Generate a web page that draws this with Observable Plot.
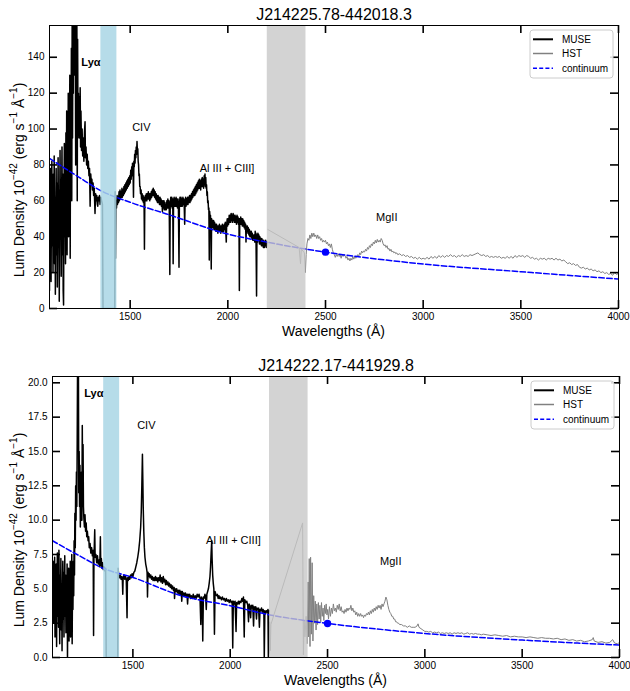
<!DOCTYPE html>
<html><head><meta charset="utf-8">
<script src="https://cdn.jsdelivr.net/npm/d3@7"></script>
<script src="https://cdn.jsdelivr.net/npm/@observablehq/plot@0.6"></script>
<style>
body{margin:0;background:#fff;}
#chart svg{display:block;}
</style></head><body><div id="chart"></div>
<script>
// ---------- shared ----------
const xTicks = [1500, 2000, 2500, 3000, 3500, 4000];
const xDomain = [1087, 4000];
const blueBand = [[1350, 1432]];
const grayBand = [[2202, 2400]];
const legendItems = ["MUSE", "HST", "continuum"];

// ---------- top panel: J214225.78-442018.3 ----------
const titleTop = "J214225.78-442018.3";
const yTicksTop = [0, 20, 40, 60, 80, 100, 120, 140];
const museTop = [[1087,10],[1089,72],[1091,30],[1093,78],[1095,15],[1097,60],[1099,82],[1101,35],[1103,68],[1105,20],[1107,75],[1109,40],[1111,85],[1113,25],[1115,62],[1117,8],[1119,55],[1121,78],[1123,30],[1125,70],[1127,12],[1129,48],[1131,84],[1133,38],[1135,66],[1137,4],[1139,52],[1141,88],[1143,45],[1145,72],[1147,18],[1149,60],[1151,90],[1153,30],[1155,75],[1157,10],[1159,2],[1161,55],[1163,92],[1165,40],[1167,80],[1169,25],[1171,98],[1173,50],[1175,110],[1177,30],[1179,105],[1181,55],[1183,120],[1185,40],[1187,115],[1189,70],[1191,130],[1193,28],[1195,125],[1197,85],[1199,145],[1201,60],[1203,160],[1205,95],[1207,165],[1209,120],[1211,170],[1213,140],[1215,175],[1217,130],[1219,170],[1221,80],[1223,160],[1225,110],[1227,165],[1229,60],[1231,150],[1233,95],[1235,120],[1237,100],[1239,118],[1241,95],[1244,123],[1246,90],[1248,110],[1251,88],[1254,100],[1257,85],[1260,95],[1263,82],[1266,98],[1269,104],[1271,84],[1274,90],[1277,80],[1280,86],[1283,78],[1286,82],[1289,74],[1292,78],[1295,57],[1298,75],[1301,70],[1304,72],[1307,66],[1310,70],[1313,63],[1316,67],[1320,53],[1323,64],[1326,60],[1329,63],[1332,58],[1334,57],[1337,62],[1340,60],[1343,63],[1346,58],[1350,62],[1354,60],[1358,58],[1361,0],[1421,0],[1423,65],[1425,28],[1427,60],
[1430,56],[1433,63],[1435,58],[1438,62],[1440,59],[1443,65],[1445,60],[1448,66],[1450,61],[1453,65],[1455,62],[1458,67],[1460,62],[1463,66],[1465,63],[1468,68],[1470,64],[1473,69],[1475,65],[1478,70],[1480,66],[1483,71],[1485,67],[1488,72],[1490,68],[1493,73],[1495,69],[1498,74],[1500,70],[1503,77],[1505,72],[1508,79],[1510,74],[1512,81],[1515,76],[1517,62],[1519,82],[1521,79],[1523,86],[1525,81],[1527,88],[1529,84],[1531,90],[1533,86],[1535,93],[1537,87],[1539,89],[1541,82],[1543,80],[1545,74],[1547,75],[1549,68],[1551,68],[1553,64],[1556,66],[1558,61],[1561,64],[1563,60],[1566,63],[1568,59],[1571,62],[1573,33],[1575,60],[1578,63],[1580,60],[1583,64],[1585,60],[1588,64],[1590,61],[1593,65],[1595,61],[1598,64],[1600,60],[1603,64],[1605,61],[1608,65],[1610,62],[1613,66],[1615,63],[1618,67],[1620,63],[1623,66],[1625,62],[1628,65],[1630,61],[1633,64],[1635,60],[1638,63],[1640,59],[1643,63],[1645,59],[1648,62],[1650,58],[1653,62],[1655,58],[1658,61],[1660,57],[1663,60],[1665,54],[1668,60],[1670,56],[1673,60],[1675,55],[1678,59],[1680,55],[1683,58],[1685,55],[1688,60],[1690,56],[1693,61],[1695,56],[1698,60],[1700,56],[1703,19],[1705,58],[1708,62],[1710,57],[1713,62],[1715,56],[1718,61],[1720,25],[1722,59],[1725,62],[1727,57],[1730,61],[1732,57],[1735,62],[1737,57],[1740,61],[1742,56],[1745,61],[1747,57],[1750,23],[1752,58],[1755,62],[1757,57],[1760,62],[1762,57],[1765,61],[1767,57],[1770,62],[1772,58],[1775,61],[1777,56],[1779,47],[1781,58],[1784,62],[1786,57],[1789,61],[1791,58],[1794,62],[1796,58],[1799,62],[1801,59],[1804,63],[1806,59],[1809,63],[1811,60],[1814,64],[1816,61],[1819,65],[1821,62],[1824,66],[1826,63],[1829,67],[1831,63],[1834,68],[1836,64],[1839,69],[1841,65],[1844,70],[1846,66],[1849,71],[1851,67],[1854,72],[1856,67],[1859,71],[1861,66],[1864,72],[1866,68],[1869,73],[1871,68],[1874,72],[1876,67],[1879,74],[1881,69],[1883,75],[1885,68],[1887,73],[1889,67],[1891,69],[1893,63],[1895,65],[1897,59],[1899,60],[1901,55],[1903,56],[1905,27],[1907,54],[1909,50],[1911,52],[1913,48],[1915,22],[1917,50],[1919,46],[1922,49],[1924,45],[1927,49],[1929,44],[1932,48],[1934,44],[1937,47],[1939,43],[1942,47],[1944,43],[1947,46],[1949,42],[1952,46],[1954,43],[1957,47],[1959,43],[1962,46],[1964,42],[1967,46],[1969,43],[1972,47],[1974,43],[1977,46],[1979,43],[1982,47],[1984,44],[1987,48],[1989,44],[1992,37],[1994,47],[1997,50],[1999,46],[2002,50],[2004,47],[2007,52],[2009,48],[2012,52],[2014,48],[2017,53],[2019,49],[2022,52],[2024,48],[2027,53],[2029,49],[2032,52],[2034,48],[2037,52],[2039,48],[2042,51],[2044,47],[2047,52],[2049,48],[2052,51],[2054,47],[2057,50],[2059,10],[2061,50],[2064,47],[2066,51],[2069,47],[2071,50],[2074,46],[2076,50],[2079,46],[2081,49],[2084,45],[2086,48],[2089,44],[2091,47],[2093,37],[2095,46],[2098,43],[2100,46],[2103,42],[2105,45],[2108,41],[2110,44],[2113,40],[2115,43],[2118,40],[2120,43],[2123,39],[2125,42],[2128,38],[2130,41],[2133,38],[2135,41],[2138,37],[2140,43],[2142,38],[2144,42],[2147,7],[2149,41],[2152,37],[2154,42],[2157,38],[2159,41],[2162,36],[2164,40],[2167,36],[2169,39],[2172,35],[2174,39],[2177,35],[2179,38],[2182,34],[2184,38],[2187,34],[2189,37],[2192,35],[2194,38],[2197,34],[2200,37]];
const hstTop = [[2205,44],[2365,34],[2372,25],[2376,33],[2385,32],[2392,31],[2397,20],[2401,30],[2405,36],[2410,39],[2415,38],[2420,41],[2425,39],[2430,42],[2435,40],[2440,42],[2445,40],[2450,41],[2455,39],[2460,41],[2465,39],[2470,40],[2475,38],[2480,39],[2485,37],[2490,38],[2495,37],[2500,38],[2505,36],[2510,37],[2515,35],[2520,36],[2525,34],[2530,36],[2535,33],[2540,31],[2545,30],[2550,28.5],[2555,30],[2560,29],[2565,30.5],[2570,29],[2575,30],[2580,28],[2585,30],[2590,29],[2595,30],[2600,29.5],[2605,28],[2610,29],[2615,27],[2620,28],[2625,26.5],[2630,28],[2635,27],[2640,29],[2645,27.5],[2650,29],[2655,28],[2660,29],[2665,30],[2670,29],[2675,31],[2680,30],[2685,32],[2690,31],[2695,32],[2700,31.5],[2705,33],[2710,32],[2715,34],[2720,33],[2725,35],[2730,34],[2735,36],[2740,35],[2745,37],[2750,36],[2755,38],[2760,36.5],[2765,38.5],[2770,37],[2775,38],[2780,37],[2785,39],[2790,38],[2795,36],[2800,35],[2805,35.5],[2810,34],[2815,35],[2820,33],[2825,33.5],[2830,32],[2835,33],[2840,31.5],[2845,32],[2850,31],[2855,31.5],[2860,30.5],[2865,31],[2870,30],[2880,30.5],[2890,29.5],[2900,30],[2910,29],[2920,29.5],[2930,28.5],[2940,29],[2950,28],[2960,28.5],[2970,27.5],[2980,28.5],[2990,27.5],[3000,28],[3010,27.5],[3020,28.5],[3030,27.5],[3040,29],[3050,28],[3060,29],[3070,28],[3080,29.5],[3090,28.5],[3100,29.5],[3110,28.5],[3120,29.5],[3130,29],[3140,30],[3150,29],[3160,29.5],[3170,28.5],[3180,29.5],[3190,29],[3200,30],[3210,29],[3220,29.5],[3230,29],[3240,30],[3250,29.5],[3260,30],[3270,30.5],[3280,31],[3290,30],[3300,29.5],[3310,30],[3320,29],[3330,29.5],[3340,28.5],[3350,29],[3360,28.5],[3370,29],[3380,28.5],[3390,29],[3400,28],[3410,28.5],[3420,28],[3430,29],[3440,28],[3450,29],[3460,28],[3470,29.5],[3480,28.5],[3490,29.5],[3500,29],[3510,29.5],[3520,28.5],[3530,29.5],[3540,29],[3550,28],[3560,28.5],[3570,27.5],[3580,28],[3590,27],[3600,28],[3610,27.5],[3620,28],[3630,27],[3640,28],[3650,27.5],[3660,28],[3670,27],[3680,28],[3690,27],[3700,27.5],[3710,26.5],[3720,27],[3730,26],[3740,25],[3750,25.5],[3760,24.5],[3770,25],[3780,24],[3790,24.5],[3800,23],[3810,22.5],[3820,23],[3830,22],[3840,22.5],[3850,21.5],[3860,22],[3870,21],[3880,21.5],[3890,20.5],[3900,21],[3910,20],[3920,20.5],[3930,19.5],[3940,20],[3950,19],[3960,19.5],[3970,18.5],[3980,20],[3990,19],[4000,19.5]];
const contTop = [[1087,83.6],[1237,73.2],[1347,65.8],[1500,59.2],[1686,52.7],[2000,41.5],[2203,36.9],[2500,31.4],[3000,24.8],[3500,20.5],[4000,16.4]];
const dotTop = [[2500, 31.4]];
const lyaTop = [["Lyα", 1250, 137]];
const labelsTop = [["CIV", 1510, 101], ["Al III + CIII]", 1856, 78], ["MgII", 2759, 51]];

// ---------- bottom panel: J214222.17-441929.8 ----------
const titleBottom = "J214222.17-441929.8";
const yTicksBottom = [0, 2.5, 5, 7.5, 10, 12.5, 15, 17.5, 20];
const museBottom = [[1087,5.0],[1090,7.0],[1092,2.5],[1094,6.2],[1096,4.0],[1098,7.3],[1100,1.5],[1102,5.8],[1104,3.2],[1106,6.8],[1108,0.8],[1110,5.5],[1112,7.6],[1114,3.0],[1116,6.5],[1118,2.2],[1120,7.8],[1122,4.5],[1124,1.0],[1126,6.0],[1128,3.5],[1130,7.2],[1132,2.0],[1134,5.2],[1136,0.5],[1138,4.8],[1140,7.0],[1142,2.8],[1144,6.2],[1146,1.5],[1148,5.0],[1150,7.4],[1152,3.0],[1154,6.0],[1156,1.8],[1158,5.5],[1160,2.5],[1162,6.8],[1164,0.0],[1166,4.5],[1168,2.0],[1170,6.5],[1172,1.2],[1174,5.5],[1176,3.0],[1178,7.0],[1180,1.5],[1182,6.0],[1184,2.5],[1186,7.5],[1188,1.0],[1190,6.0],[1192,3.5],[1194,7.0],[1196,4.5],[1198,8.5],[1200,6.0],[1202,10.5],[1204,8.0],[1206,12.5],[1208,10.0],[1210,13.5],[1212,11.0],[1214,16.0],[1216,22.0],[1218,24.0],[1220,22.0],[1222,12.0],[1224,15.0],[1226,11.0],[1228,14.0],[1230,9.5],[1232,11.5],[1234,10.0],[1236,13.5],[1238,10.0],[1240,16.9],[1242,12.0],[1244,15.5],[1246,11.0],[1248,10.2],[1251,9.5],[1254,10.4],[1257,9.2],[1260,9.8],[1263,8.8],[1266,9.2],[1270,8.5],[1273,8.8],[1276,8.0],[1280,8.3],[1284,7.6],[1288,8.0],[1292,7.4],[1296,7.8],[1298,1.6],[1300,7.2],[1304,9.3],[1306,7.3],[1310,7.5],[1314,6.9],[1318,7.4],[1322,6.8],[1326,7.1],[1330,6.6],[1333,8.8],[1335,6.7],[1338,7.2],[1341,6.5],[1344,6.9],[1348,6.4],[1352,6.6],[1356,6.3],[1360,6.5],[1363,0],[1422,0],[1424,6.5],[1427,6.0],[1431,5.8],[1435,6.0],[1439,5.7],[1443,5.9],[1446,5.6],[1448,4.6],[1450,5.8],[1454,6.0],[1458,5.7],[1462,5.9],[1466,5.6],[1470,2.9],[1472,5.8],[1476,5.6],[1480,5.9],[1484,5.7],[1488,6.0],[1492,5.8],[1496,6.1],[1500,5.9],[1505,6.2],[1510,6.3],[1515,6.6],[1520,6.9],[1525,7.3],[1530,7.8],[1535,8.5],[1540,9.5],[1543,10.6],[1546,12.5],[1549,14.8],[1551,13.0],[1553,11.0],[1556,9.2],[1559,8.0],[1562,7.3],[1566,6.8],[1570,6.5],[1573,6.2],[1575,4.4],[1578,6.2],[1580,5.9],[1584,6.1],[1588,5.8],[1592,6.0],[1596,5.7],[1600,5.9],[1604,5.6],[1608,5.8],[1612,5.6],[1616,5.9],[1620,5.6],[1624,5.8],[1628,5.5],[1632,5.8],[1636,5.6],[1640,6.0],[1644,5.5],[1648,5.8],[1652,5.4],[1656,5.9],[1660,5.5],[1664,5.7],[1668,5.3],[1672,5.6],[1676,5.3],[1680,5.5],[1684,5.2],[1688,5.4],[1692,5.1],[1696,5.3],[1700,5.0],[1704,5.2],[1708,4.9],[1712,5.1],[1714,4.3],[1717,5.0],[1721,4.8],[1725,5.0],[1729,4.7],[1733,4.9],[1737,4.6],[1741,4.9],[1745,4.6],[1749,4.8],[1751,4.1],[1754,4.8],[1758,4.5],[1762,4.7],[1766,4.5],[1770,4.7],[1774,4.4],[1778,4.6],[1781,3.9],[1784,4.6],[1788,4.4],[1792,4.6],[1796,4.3],[1800,4.5],[1805,4.3],[1810,4.6],[1815,4.3],[1820,4.5],[1825,4.3],[1830,4.6],[1835,4.4],[1840,4.6],[1845,4.3],[1849,2.4],[1852,4.4],[1856,4.2],[1859,1.2],[1862,4.4],[1866,4.3],[1870,4.6],[1874,4.4],[1877,3.5],[1880,4.6],[1884,4.8],[1888,5.0],[1892,5.4],[1896,5.9],[1899,6.6],[1902,7.6],[1905,8.5],[1907,7.2],[1910,6.0],[1913,5.4],[1916,5.0],[1919,1.7],[1922,4.8],[1926,4.6],[1930,4.5],[1934,4.6],[1938,4.3],[1942,4.5],[1946,4.3],[1950,4.4],[1955,4.2],[1960,4.4],[1965,4.2],[1970,4.3],[1975,4.1],[1980,4.3],[1985,4.1],[1990,4.2],[1995,4.0],[2000,4.2],[2005,4.0],[2010,4.1],[2013,0.7],[2016,4.1],[2020,3.9],[2025,4.1],[2030,1.9],[2033,4.0],[2038,3.9],[2042,4.1],[2046,3.9],[2050,4.1],[2055,4.0],[2060,4.3],[2064,4.1],[2068,4.4],[2072,1.5],[2075,4.2],[2080,4.0],[2085,4.1],[2090,3.8],[2094,2.6],[2097,3.9],[2101,3.7],[2105,2.9],[2108,3.8],[2112,3.6],[2116,3.8],[2120,2.3],[2123,3.7],[2127,3.5],[2131,3.7],[2135,2.8],[2138,3.6],[2142,3.5],[2146,3.6],[2150,2.2],[2153,3.5],[2157,3.4],[2161,3.6],[2165,3.3],[2169,3.5],[2173,3.3],[2175,0],[2178,3.4],[2182,3.2],[2186,3.4],[2190,3.3],[2194,3.5],[2196,0],[2198,3.3],[2200,3.4]];
const hstBottom = [[2200,0.3],[2203,2.6],[2206,0.5],[2209,2.4],[2372,9.8],[2376,0.2],[2380,2.7],[2384,1.5],[2390,3.0],[2395,1.0],[2400,5.5],[2403,1.5],[2406,7.2],[2410,0.8],[2413,7.3],[2417,1.7],[2421,6.9],[2425,1.2],[2429,4.5],[2433,2.5],[2437,4.1],[2441,2.0],[2445,3.9],[2449,2.4],[2453,4.0],[2457,2.8],[2461,3.8],[2465,2.6],[2469,4.0],[2473,3.0],[2477,3.6],[2481,2.7],[2485,3.8],[2489,3.2],[2493,3.9],[2497,3.1],[2501,3.5],[2505,2.8],[2510,3.7],[2515,3.0],[2520,3.6],[2525,3.2],[2530,3.9],[2535,3.4],[2540,3.6],[2545,3.3],[2550,3.8],[2555,3.5],[2560,3.9],[2565,3.4],[2570,3.7],[2575,3.3],[2580,3.4],[2585,3.2],[2590,3.5],[2595,3.3],[2600,3.6],[2605,3.4],[2610,3.6],[2615,3.5],[2620,3.8],[2625,3.4],[2630,3.6],[2635,3.3],[2640,3.4],[2645,3.1],[2650,3.3],[2655,3.0],[2660,3.2],[2665,3.0],[2670,3.2],[2675,3.0],[2680,3.1],[2685,2.9],[2690,3.1],[2695,3.0],[2700,3.2],[2705,3.1],[2710,3.3],[2715,3.1],[2720,3.4],[2725,3.2],[2730,3.5],[2735,3.3],[2740,3.6],[2745,3.4],[2750,3.7],[2755,3.5],[2760,3.8],[2765,3.6],[2770,3.8],[2775,3.5],[2780,3.9],[2785,3.7],[2790,3.9],[2795,4.1],[2800,4.4],[2805,4.2],[2810,3.8],[2815,3.5],[2820,3.3],[2825,3.2],[2830,3.0],[2835,3.0],[2840,2.8],[2845,2.8],[2850,2.6],[2855,2.6],[2860,2.5],[2865,2.5],[2870,2.4],[2880,2.4],[2890,2.3],[2900,2.3],[2910,2.2],[2920,2.3],[2930,2.2],[2940,2.2],[2950,2.2],[2960,2.3],[2965,2.45],[2970,2.2],[2980,2.1],[2990,2.0],[3000,1.9],[3010,1.9],[3020,1.85],[3030,1.9],[3040,1.8],[3050,1.85],[3060,1.8],[3070,1.85],[3080,1.75],[3090,1.8],[3100,1.75],[3110,1.8],[3120,1.75],[3130,1.8],[3140,1.7],[3150,1.8],[3160,1.75],[3170,1.8],[3180,1.75],[3190,1.8],[3200,1.7],[3210,1.75],[3220,1.8],[3230,1.7],[3240,1.75],[3250,1.7],[3260,1.75],[3270,1.7],[3280,1.7],[3290,1.65],[3300,1.7],[3320,1.65],[3340,1.6],[3360,1.65],[3380,1.6],[3400,1.55],[3420,1.6],[3440,1.5],[3460,1.55],[3480,1.5],[3500,1.5],[3520,1.45],[3540,1.5],[3560,1.45],[3580,1.4],[3600,1.45],[3620,1.4],[3640,1.4],[3660,1.35],[3680,1.4],[3700,1.3],[3720,1.35],[3740,1.25],[3760,1.3],[3780,1.2],[3800,1.25],[3820,1.15],[3840,1.2],[3860,1.3],[3865,1.45],[3870,1.2],[3890,1.1],[3910,1.15],[3930,1.05],[3950,1.1],[3965,1.3],[3975,1.05],[3990,1.0],[4000,1.1]];
const contBottom = [[1087,8.5],[1226,7.4],[1346,6.5],[1500,5.83],[1748,4.5],[2000,3.77],[2204,3.1],[2372,2.72],[2500,2.48],[3000,1.75],[3500,1.27],[4000,0.9]];
const dotBottom = [[2500, 2.48]];
const lyaBottom = [["Lyα", 1250, 19.2]];
const labelsBottom = [["CIV", 1522, 16.9], ["Al III + CIII]", 1876, 8.5], ["MgII", 2770, 7.0]];

const FONT = "'Liberation Sans', Arial, Helvetica, sans-serif";

function panel(o) {
  const W = 630;
  const fw = W - o.ml - o.mr, fh = o.height - o.mt - o.mb;
  const X = d => d[0], Y = d => d[1];
  const svg = Plot.plot({
    width: W, height: o.height,
    marginTop: o.mt, marginBottom: o.mb, marginLeft: o.ml, marginRight: o.mr,
    style: {fontFamily: FONT, fontSize: "10px", background: "white", color: "black"},
    x: {domain: xDomain},
    y: {domain: o.yDomain},
    marks: [
      Plot.line(o.hst, {x: X, y: Y, stroke: "#808080", strokeWidth: 1, clip: true}),
      Plot.line(o.muse, {x: X, y: Y, stroke: "black", strokeWidth: 1.5, clip: true}),
      Plot.line(o.cont, {x: X, y: Y, stroke: "#0000ff", strokeWidth: 1.5, strokeDasharray: "5.5,2.4", curve: "monotone-x", clip: true}),
      Plot.dot(o.dot, {x: X, y: Y, r: 3.7, fill: "#0000ff"}),
      Plot.rect(blueBand, {x1: X, x2: Y, fill: "#a9d6e5", fillOpacity: 0.85}),
      Plot.rect(grayBand, {x1: X, x2: Y, fill: "#c8c8c8", fillOpacity: 0.8}),
      Plot.text(o.lya, {x: d => d[1], y: d => d[2], text: d => d[0], textAnchor: "start", fontSize: 11, fontWeight: "bold"}),
      Plot.text(o.labels, {x: d => d[1], y: d => d[2], text: d => d[0], textAnchor: "start", fontSize: 11}),
      Plot.frame({stroke: "black", strokeWidth: 1}),
      Plot.axisX({ticks: xTicks, tickSize: 0, tickPadding: 4, tickFormat: d3.format("d"), label: null, fontSize: 10}),
      Plot.axisY({ticks: o.yTicks, tickSize: 0, tickPadding: 5, tickFormat: o.yFmt, label: null, fontSize: 10}),
      Plot.tickX(xTicks, {x: d => d, insetTop: fh - 8, stroke: "black", strokeWidth: 1.6}),
      Plot.tickX(xTicks, {x: d => d, insetBottom: fh - 8, stroke: "black", strokeWidth: 1.6}),
      Plot.tickY(o.yTicks, {y: d => d, insetRight: fw - 8, stroke: "black", strokeWidth: 1.6}),
      Plot.tickY(o.yTicks, {y: d => d, insetLeft: fw - 8, stroke: "black", strokeWidth: 1.6}),
      Plot.text([o.title], {frameAnchor: "top", dy: -6, lineAnchor: "bottom", fontSize: 16})
    ]
  });
  const s = d3.select(svg);
  // y label with superscripts
  const yl = s.append("text")
    .attr("transform", `translate(19,${o.ylabelY}) rotate(-90)`)
    .attr("text-anchor", "middle").attr("dominant-baseline", "central")
    .attr("font-size", 14).attr("fill", "black").attr("font-family", FONT);
  yl.append("tspan").text("Lum Density 10");
  yl.append("tspan").attr("dy", -6).attr("font-size", 10).text("−42");
  yl.append("tspan").attr("dy", 6).text(" (erg s");
  yl.append("tspan").attr("dy", -6).attr("font-size", 10).text("−1");
  yl.append("tspan").attr("dy", 6).text(" Å");
  yl.append("tspan").attr("dy", -6).attr("font-size", 10).text("−1");
  yl.append("tspan").attr("dy", 6).text(")");
  // x label
  s.append("text").attr("x", o.ml + fw / 2).attr("y", o.height - o.mb + 28)
    .attr("text-anchor", "middle").attr("font-size", 14).attr("fill", "black")
    .attr("font-family", FONT).text("Wavelengths (Å)");
  // legend
  const lx = W - o.mr - 5 - 83, ly = o.mt + 5;
  const g = s.append("g").attr("font-family", FONT).attr("font-size", 10).attr("text-anchor", "start");
  g.append("rect").attr("x", lx).attr("y", ly).attr("width", 83).attr("height", 48)
    .attr("rx", 3).attr("fill", "white").attr("fill-opacity", 0.85).attr("stroke", "#cccccc");
  const styles = [
    {stroke: "black", w: 2, dash: null},
    {stroke: "#808080", w: 1.5, dash: null},
    {stroke: "#0000ff", w: 1.5, dash: "4,2.2"}
  ];
  const rows = [9.3, 23.5, 38.3];
  legendItems.forEach((name, i) => {
    const yy = ly + rows[i];
    const ln = g.append("line").attr("x1", lx + 3).attr("x2", lx + 23).attr("y1", yy).attr("y2", yy)
      .attr("stroke", styles[i].stroke).attr("stroke-width", styles[i].w);
    if (styles[i].dash) ln.attr("stroke-dasharray", styles[i].dash);
    g.append("text").attr("x", lx + 32).attr("y", yy).attr("dy", "0.35em")
      .attr("text-anchor", "start").attr("fill", "black").text(name);
  });
  return svg;
}

const root = document.getElementById("chart");
root.appendChild(panel({
  title: titleTop, muse: museTop, hst: hstTop, cont: contTop, dot: dotTop,
  lya: lyaTop, labels: labelsTop, yDomain: [0, 157.7], yTicks: yTicksTop,
  yFmt: d3.format("d"), height: 340, mt: 25, mb: 32, ml: 49, mr: 12, ylabelY: 180
}));
root.appendChild(panel({
  title: titleBottom, muse: museBottom, hst: hstBottom, cont: contBottom, dot: dotBottom,
  lya: lyaBottom, labels: labelsBottom, yDomain: [0, 20.46], yTicks: yTicksBottom,
  yFmt: d3.format(".1f"), height: 351, mt: 36, mb: 34, ml: 52, mr: 11, ylabelY: 190
}));
</script></body></html>
